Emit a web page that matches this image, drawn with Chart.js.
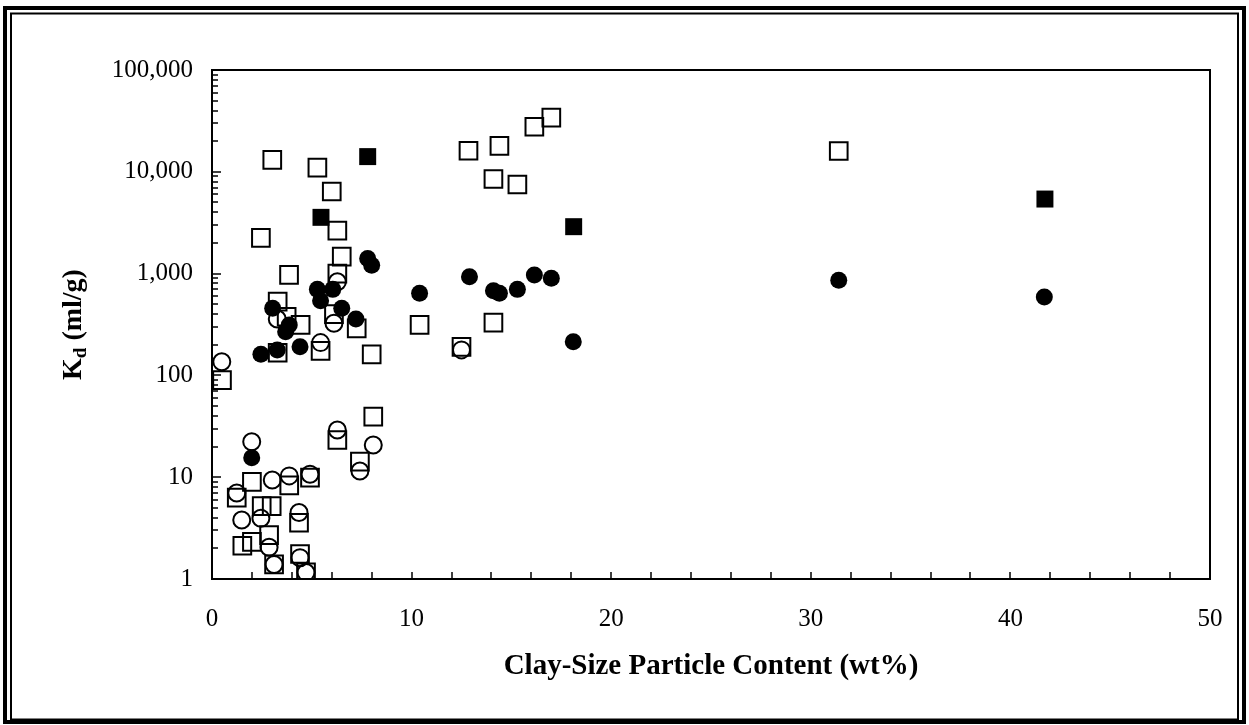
<!DOCTYPE html>
<html>
<head>
<meta charset="utf-8">
<script src="https://cdn.jsdelivr.net/npm/chart.js@4.4.1/dist/chart.umd.min.js"></script>
<style>
  html, body { margin: 0; padding: 0; background: #fff; }
</style>
</head>
<body>
<canvas id="chart" width="1249" height="725"></canvas>
<script>
const ctx = document.getElementById('chart');

// clay content (wt%) and Kd (ml/g) for each marker group
const openSqX = [0.5, 2.45, 3.02, 5.28, 6.0, 6.28, 6.5, 3.86, 6.28, 3.29, 3.74, 4.44, 6.11, 7.25, 5.44, 3.29, 8.0,
  10.4, 12.5, 14.1, 12.85, 14.4, 16.15, 17.0, 14.1, 15.3, 31.4,
  6.28, 8.08, 7.41, 2.0, 3.87, 4.91, 1.24, 2.49, 2.99, 4.36, 2.86, 1.52, 2.0, 4.41, 3.11, 4.71];
const openSqY = [90, 2240, 13100, 11000, 6400, 2640, 1470, 970, 1000, 530, 377, 313, 400, 290, 174, 167, 161,
  313, 191, 330, 16100, 18000, 27700, 34000, 8500, 7500, 16000,
  23.2, 39.3, 14.2, 9.0, 8.3, 9.9, 6.3, 5.2, 5.2, 3.57, 2.7, 2.12, 2.32, 1.76, 1.39, 1.16];

const fillSqX = [5.46, 7.8, 18.12, 41.73];
const fillSqY = [3570, 14100, 2890, 5400];

const openCirX = [0.49, 6.28, 3.27, 6.11, 5.44, 12.5, 1.99, 6.28, 8.08, 7.41, 3.02, 3.87, 4.91, 1.24, 1.49, 2.45,
  4.36, 2.86, 4.41, 3.11, 4.71];
const openCirY = [136, 833, 358, 325, 210, 178, 22.3, 29.1, 20.7, 11.5, 9.4, 10.3, 10.7, 7.0, 3.8, 3.95,
  4.5, 2.05, 1.62, 1.39, 1.16];

const fillCirX = [7.8, 8.0, 5.28, 6.05, 5.44, 6.5, 3.04, 3.87, 3.69, 7.21, 4.41, 3.27, 2.45, 1.99,
  10.4, 12.9, 14.1, 14.4, 15.3, 16.15, 17.0, 18.1, 31.4, 41.7];
const fillCirY = [1410, 1210, 700, 700, 540, 456, 456, 313, 269, 358, 191, 178, 161, 15.5,
  640, 930, 680, 640, 700, 970, 900, 214, 860, 590];

const yTicks = [1, 10, 100, 1000, 10000, 100000];
const yTickLabels = ['1', '10', '100', '1,000', '10,000', '100,000'];
const xTicks = [0, 10, 20, 30, 40, 50];

const serif = '"Liberation Serif", "Times New Roman", serif';

function pts(xs, ys) {
  return xs.map((x, i) => ({ x: x, y: ys[i] }));
}

// box, inward ticks, outer double frame and axis titles
const decorations = {
  id: 'decorations',
  beforeDraw(chart) {
    const c = chart.ctx;
    c.save();
    c.fillStyle = '#fff';
    c.fillRect(0, 0, chart.width, chart.height);
    c.restore();
  },
  beforeDatasetsDraw(chart) {
    const c = chart.ctx;
    const a = chart.chartArea;
    const x = chart.scales.x, y = chart.scales.y;
    c.save();
    c.strokeStyle = '#000';
    c.lineWidth = 2;
    c.strokeRect(a.left, a.top, a.right - a.left, a.bottom - a.top);
    c.lineWidth = 1.5;
    c.beginPath();
    for (let d = 0; d < 5; d++) {
      for (let m = 1; m <= 9; m++) {
        const py = Math.round(y.getPixelForValue(m * Math.pow(10, d)));
        const len = m === 1 ? 9 : 6;
        c.moveTo(a.left, py);
        c.lineTo(a.left + len, py);
      }
    }
    for (let v = 2; v < 50; v += 2) {
      const px = Math.round(x.getPixelForValue(v));
      c.moveTo(px, a.bottom);
      c.lineTo(px, a.bottom - 7);
    }
    c.stroke();
    c.restore();
  },
  afterDraw(chart) {
    const c = chart.ctx;
    const a = chart.chartArea;
    c.save();
    c.strokeStyle = '#000';
    c.lineWidth = 4;
    c.strokeRect(5, 8, chart.width - 10, chart.height - 11);
    c.lineWidth = 2;
    c.strokeRect(11, 13.5, chart.width - 22, chart.height - 19);

    c.fillStyle = '#000';
    c.textBaseline = 'middle';
    c.textAlign = 'center';
    c.font = 'bold 29px ' + serif;
    c.fillText('Clay-Size Particle Content (wt%)', (a.left + a.right) / 2, 667);

    // rotated y title with subscript d
    c.translate(72, (a.top + a.bottom) / 2);
    c.rotate(-Math.PI / 2);
    const big = 'bold 28px ' + serif, small = 'bold 19px ' + serif;
    c.font = big; const wK = c.measureText('K').width;
    const wRest = c.measureText(' (ml/g)').width;
    c.font = small; const wd = c.measureText('d').width;
    let sx = -(wK + wd + wRest) / 2;
    c.textAlign = 'left';
    c.textBaseline = 'alphabetic';
    c.font = big; c.fillText('K', sx, 9); sx += wK;
    c.font = small; c.fillText('d', sx, 14); sx += wd;
    c.font = big; c.fillText(' (ml/g)', sx, 9);
    c.restore();
  }
};

new Chart(ctx, {
  type: 'scatter',
  data: {
    datasets: [
      { label: 'fill circles', data: pts(fillCirX, fillCirY), pointStyle: 'circle', pointRadius: 8.5,
        backgroundColor: '#000', borderColor: '#000', borderWidth: 0 },
      { label: 'fill squares', data: pts(fillSqX, fillSqY), pointStyle: 'rect', pointRadius: 12,
        backgroundColor: '#000', borderColor: '#000', borderWidth: 0 },
      { label: 'open circles', data: pts(openCirX, openCirY), pointStyle: 'circle', pointRadius: 8.5,
        backgroundColor: 'rgba(0,0,0,0)', borderColor: '#000', borderWidth: 2 },
      { label: 'open squares', data: pts(openSqX, openSqY), pointStyle: 'rect', pointRadius: 12.5,
        backgroundColor: 'rgba(0,0,0,0)', borderColor: '#000', borderWidth: 2 }
    ]
  },
  options: {
    responsive: false,
    animation: false,
    events: [],
    layout: { padding: { left: 20, right: 39, top: 70, bottom: 20 } },
    plugins: { legend: { display: false }, tooltip: { enabled: false } },
    scales: {
      x: {
        type: 'linear', min: 0, max: 50,
        grid: { display: false, drawTicks: false },
        border: { display: false },
        afterBuildTicks: s => { s.ticks = xTicks.map(v => ({ value: v })); },
        afterFit: s => { s.height = 126; },
        ticks: { color: '#000', padding: 25, maxRotation: 0, font: { family: serif, size: 25 } }
      },
      y: {
        type: 'logarithmic', min: 1, max: 100000,
        grid: { display: false, drawTicks: false },
        border: { display: false },
        afterBuildTicks: s => { s.ticks = yTicks.map(v => ({ value: v })); },
        afterFit: s => { s.width = 192; },
        ticks: {
          color: '#000', padding: 19, font: { family: serif, size: 25 },
          callback: v => yTickLabels[yTicks.indexOf(v)]
        }
      }
    }
  },
  plugins: [decorations]
});
</script>
</body>
</html>
